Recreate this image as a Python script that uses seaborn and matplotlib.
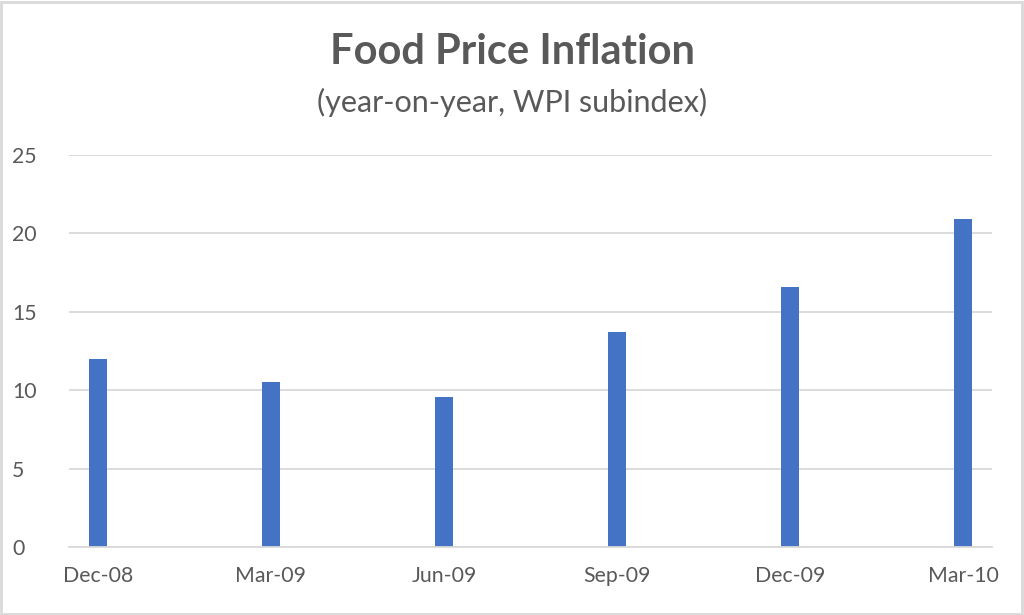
import pandas as pd
import seaborn as sns
import matplotlib.pyplot as plt
from matplotlib.patches import Rectangle

# quarterly readings
periods = ['Dec-08', 'Mar-09', 'Jun-09', 'Sep-09', 'Dec-09', 'Mar-10']
inflation = [12.02, 10.51, 9.59, 13.70, 16.59, 20.91]
yticks = [0, 5, 10, 15, 20, 25]

# Excel date axis: one slot per month, bars sit in the middle of their month
months = [3 * i + 0.5 for i in range(len(periods))]
data = pd.DataFrame({'month': months, 'inflation': inflation})

grey = '#595959'
sns.set_style('white')
plt.rcParams['font.family'] = ['Lato', 'DejaVu Sans']

fig = plt.figure(figsize=(10.24, 6.15), dpi=100)
ax = fig.add_axes([69 / 1024, 1 - 547 / 615, 923 / 1024, 392 / 615])

sns.barplot(data=data, x='month', y='inflation', native_scale=True,
            color='#4472C4', width=0.104, saturation=1, linewidth=0, ax=ax)

ax.set_xlim(0, 16)
ax.set_ylim(0, 25)
# tick marks at the start of each quarter, labels under the bars
ax.set_xticks([3 * i for i in range(len(periods))])
ax.set_xticklabels([])
ax.set_xticks(months, minor=True)
ax.set_xticklabels(periods, minor=True)
ax.set_yticks(yticks)
ax.set_xlabel('')
ax.set_ylabel('')

ax.grid(axis='y', color='#d9d9d9', linewidth=1.3)
ax.set_axisbelow(True)
for side in ['top', 'right', 'left']:
    ax.spines[side].set_visible(False)
ax.spines['bottom'].set_color('#d9d9d9')
ax.spines['bottom'].set_linewidth(1.3)
ax.tick_params(axis='x', which='major', length=6, width=1.3,
               color='#d9d9d9', direction='out')
ax.tick_params(axis='x', which='minor', colors=grey, labelsize=15.3,
               length=0, pad=14)
ax.tick_params(axis='y', colors=grey, labelsize=15.3, length=0, pad=41)
for lab in ax.get_yticklabels():
    lab.set_horizontalalignment('left')

fig.text(0.5, 1 - 52 / 615, 'Food Price Inflation', ha='center', va='center',
         fontsize=30, fontweight='bold', color=grey)
fig.text(0.5, 1 - 102 / 615, '(year-on-year, WPI subindex)', ha='center',
         va='center', fontsize=22, color=grey)

# thin grey frame round the chart area
fig.patches.append(Rectangle((0.001, 0.002), 0.997, 0.995, transform=fig.transFigure,
                             fill=False, edgecolor='#d9d9d9', linewidth=2))

fig.savefig('out.png', dpi=100)
